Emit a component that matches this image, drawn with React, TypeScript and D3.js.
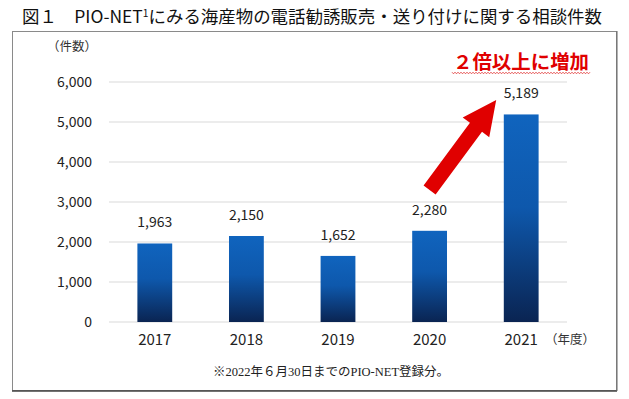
import React from "react";
import * as d3 from "d3";

const years = ["2017", "2018", "2019", "2020", "2021"];
const counts = [1963, 2150, 1652, 2280, 5189];
const yTicks = [0, 1000, 2000, 3000, 4000, 5000, 6000];

const W = 629;
const H = 399;
const FONT = "'Noto Sans CJK JP', 'Noto Sans', sans-serif";

export default function App() {
  const x = d3.scaleBand<string>().domain(years).range([109, 567]).paddingInner(0.62).paddingOuter(0.31);
  const y = d3.scaleLinear().domain([0, 6000]).range([322, 82]);
  const fmt = d3.format(",");
  const bw = x.bandwidth();
  const cx = (k: string) => (x(k) as number) + bw / 2;

  // arrow from above 2020 label toward 2021 label
  const tail: [number, number] = [cx("2020"), y(3300)];
  const tip: [number, number] = [cx("2021") - 25, y(5550)];
  const dx = tip[0] - tail[0];
  const dy = tip[1] - tail[1];
  const len = Math.hypot(dx, dy);
  const ux = dx / len, uy = dy / len;
  const px = -uy, py = ux;
  const shaftW = 15, headW = 33, headL = 34;
  const base: [number, number] = [tip[0] - ux * headL, tip[1] - uy * headL];
  const pts: [number, number][] = [
    [tail[0] + px * shaftW / 2, tail[1] + py * shaftW / 2],
    [base[0] + px * shaftW / 2, base[1] + py * shaftW / 2],
    [base[0] + px * headW / 2, base[1] + py * headW / 2],
    tip,
    [base[0] - px * headW / 2, base[1] - py * headW / 2],
    [base[0] - px * shaftW / 2, base[1] - py * shaftW / 2],
    [tail[0] - px * shaftW / 2, tail[1] - py * shaftW / 2],
  ];
  const arrowPath = d3.line()(pts) + "Z";

  // wavy underline
  const waveX0 = 452, waveX1 = 591, waveY = 73;
  const wavePts: [number, number][] = d3.range(waveX0, waveX1 + 0.1, 1.5).map((xx, i) => [xx, waveY + (i % 2 === 0 ? -0.8 : 0.8)]);
  const wavePath = d3.line()(wavePts) as string;

  return (
    <svg width={W} height={H} style={{ position: "absolute", left: 0, top: 0, background: "#fff" }}>
      <defs>
        <linearGradient id="barGrad" x1="0" y1="0" x2="0" y2="1">
          <stop offset="0%" stopColor="#1064BE" />
          <stop offset="45%" stopColor="#0E58AC" />
          <stop offset="100%" stopColor="#0A2452" />
        </linearGradient>
      </defs>
      <rect x={0} y={0} width={W} height={H} fill="#fff" />
      <text x={22} y={23} fontFamily={FONT} fontSize={17} fill="#111" textLength={580} lengthAdjust="spacingAndGlyphs">
        図１　PIO-NET<tspan fontSize={10} dy={-6}>1</tspan><tspan dy={6}>にみる海産物の電話勧誘販売・送り付けに関する相談件数</tspan>
      </text>
      <rect x={12.5} y={31.5} width={604} height={359} fill="none" stroke="#8a8a8a" strokeWidth={1} />
      <line x1={12} x2={617} y1={391} y2={391} stroke="#444" strokeWidth={1.5} />
      <line x1={617} x2={617} y1={31} y2={391} stroke="#666" strokeWidth={1} />

      {yTicks.map((t) => (
        <g key={t}>
          <line x1={109} x2={567} y1={y(t)} y2={y(t)} stroke="#d9d9d9" strokeWidth={1} />
          <text x={92} y={y(t)} dy="0.35em" textAnchor="end" fontFamily={FONT} fontSize={14} fill="#222">
            {fmt(t)}
          </text>
        </g>
      ))}
      <text x={72} y={47} dy="0.35em" textAnchor="middle" fontFamily={FONT} fontSize={12.5} fill="#333">（件数）</text>

      {years.map((k, i) => (
        <g key={k}>
          <rect x={x(k)} y={y(counts[i])} width={bw} height={y(0) - y(counts[i])} fill="url(#barGrad)" />
          <text x={cx(k)} y={y(counts[i]) - 21} dy="0.35em" textAnchor="middle" fontFamily={FONT} fontSize={14} fill="#222">
            {fmt(counts[i])}
          </text>
          <text x={cx(k)} y={340} dy="0.35em" textAnchor="middle" fontFamily={FONT} fontSize={15} fill="#222">
            {k}
          </text>
        </g>
      ))}
      <text x={570} y={340} dy="0.35em" textAnchor="middle" fontFamily={FONT} fontSize={12.5} fill="#333">（年度）</text>

      <text x={331} y={372} dy="0.35em" textAnchor="middle" fontFamily="'Liberation Serif', 'Noto Sans CJK JP', serif" fontSize={12.5} fill="#222">
        ※2022年６月30日までのPIO-NET登録分。
      </text>

      <path d={arrowPath} fill="#E00000" />
      <text x={521} y={62} dy="0.35em" textAnchor="middle" fontFamily={FONT} fontSize={19} fontWeight="bold" fill="#E00000" textLength={136} lengthAdjust="spacingAndGlyphs">
        ２倍以上に増加
      </text>
      <path d={wavePath} fill="none" stroke="#E03030" strokeWidth={0.8} />
    </svg>
  );
}
